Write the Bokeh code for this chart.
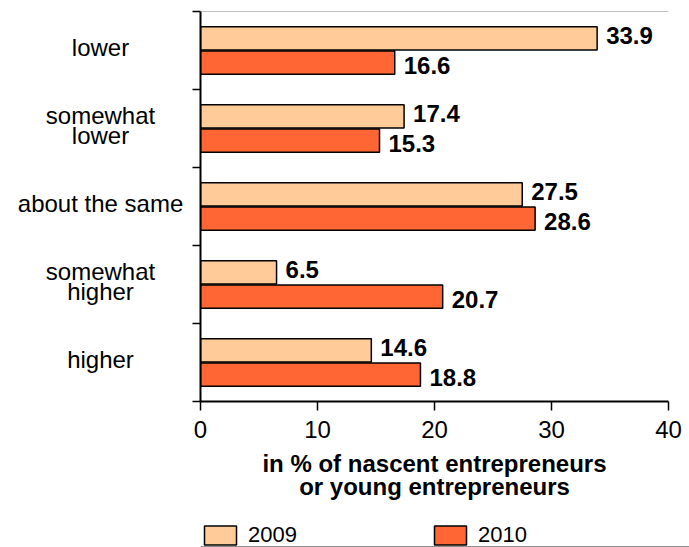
from bokeh.plotting import figure
from bokeh.layouts import row, column
from bokeh.models import FixedTicker, Legend, LegendItem, Span, ColumnDataSource
from bokeh.core.properties import value
from bokeh.embed import file_html
from bokeh.resources import INLINE

categories = ["lower", "somewhat\nlower", "about the same", "somewhat\nhigher", "higher"]
v2009 = [33.9, 17.4, 27.5, 6.5, 14.6]
v2010 = [16.6, 15.3, 28.6, 20.7, 18.8]
x_ticks = [0, 10, 20, 30, 40]
series = ["2009", "2010"]
colors = ["#FFCC99", "#FF6633"]
x_title = "in % of nascent entrepreneurs\nor young entrepreneurs"

FONT = "Liberation Sans"
n = len(categories)
pos = [n - 1 - i for i in range(n)]  # top to bottom
BAR_H = 0.3
OFF = 0.155
W, H = 689, 547
LAB_W = 190
LEG_H = 30
MAIN_H = H - LEG_H
TOP = 11
BOTTOM = MAIN_H - 401

# ---- main plot ----
p = figure(width=W - LAB_W, height=MAIN_H, output_backend="svg", toolbar_location=None,
           x_range=(0, 40), y_range=(-0.5, n - 0.5),
           min_border_left=10, min_border_right=21, min_border_top=TOP,
           min_border_bottom=BOTTOM)
p.outline_line_color = None
p.xgrid.visible = False
p.ygrid.visible = False

for vals, col, off, yoff in [(v2009, colors[0], OFF, -3), (v2010, colors[1], -OFF, 3)]:
    src = ColumnDataSource(dict(y=[q + off for q in pos], v=vals,
                                lbl=[f"{v:.1f}" for v in vals]))
    p.hbar(y="y", left=0, right="v", height=BAR_H, source=src,
           fill_color=col, line_color="black", line_width=1.5)
    p.text(x="v", y="y", text="lbl", source=src, x_offset=9, y_offset=yoff,
           text_baseline="middle", text_align="left",
           text_font=value(FONT), text_font_style="bold",
           text_font_size="24px", text_color="black")

p.add_layout(Span(location=n - 0.5, dimension="width", line_color="#808080", line_width=1))

xa = p.xaxis[0]
xa.ticker = FixedTicker(ticks=x_ticks)
xa.axis_line_width = 2
xa.axis_line_color = "black"
xa.major_tick_in = 0
xa.major_tick_out = 9
xa.major_tick_line_width = 1.5
xa.minor_tick_line_color = None
xa.major_label_text_font = FONT
xa.major_label_text_font_size = "24px"
xa.major_label_text_color = "black"
xa.major_label_standoff = 10
xa.axis_label = x_title
xa.axis_label_text_font = FONT
xa.axis_label_text_font_size = "24px"
xa.axis_label_text_font_style = "bold"
xa.axis_label_text_color = "black"
xa.axis_label_text_line_height = 0.86
xa.axis_label_standoff = 9

ya = p.yaxis[0]
ya.ticker = FixedTicker(ticks=[], minor_ticks=[i - 0.5 for i in range(n + 1)])
ya.axis_line_width = 2
ya.axis_line_color = "black"
ya.major_tick_line_color = None
ya.major_tick_out = 0
ya.major_tick_in = 0
ya.major_label_standoff = 0
ya.minor_tick_in = 0
ya.minor_tick_out = 8
ya.minor_tick_line_width = 1.5
ya.minor_tick_line_color = "black"

# ---- category labels panel (shares the y range) ----
lab = figure(width=LAB_W, height=MAIN_H, output_backend="svg", toolbar_location=None,
             x_range=(0, LAB_W), y_range=p.y_range,
             min_border_left=0, min_border_right=0, min_border_top=TOP,
             min_border_bottom=BOTTOM, x_axis_location=None, y_axis_location=None)
lab.outline_line_color = None
lab.xgrid.visible = False
lab.ygrid.visible = False
lab.text(x=100, y=pos, text=categories, text_align="center", text_baseline="middle",
         y_offset=-3, text_font=value(FONT), text_font_size="24px",
         text_line_height=0.75, text_color="black")

# ---- legend strip (its swatch glyphs sit outside the strip's visible range) ----
leg = figure(width=W, height=LEG_H, output_backend="svg", toolbar_location=None,
             x_range=(0, 1), y_range=(0, 1),
             min_border_left=200, min_border_right=0, min_border_top=5,
             min_border_bottom=0, x_axis_location=None, y_axis_location=None)
leg.outline_line_color = None
leg.xgrid.visible = False
leg.ygrid.visible = False
items = []
for s, col in zip(series, colors):
    r = leg.hbar(y=[-5], left=[0], right=[1], height=1, fill_color=col,
                 line_color="black", line_width=1.5)
    items.append(LegendItem(label=s, renderers=[r]))
legend = Legend(items=items, location="top_left", orientation="horizontal",
                glyph_width=40, glyph_height=24, label_standoff=8, spacing=133,
                padding=0, margin=0, border_line_color=None, background_fill_alpha=0,
                label_text_font=FONT, label_text_font_size="22px", label_text_color="black",
                label_height=20)
leg.add_layout(legend, "center")

layout = column(row(lab, p, spacing=0), leg, spacing=0)
open("out.html", "w").write(file_html(layout, INLINE))
